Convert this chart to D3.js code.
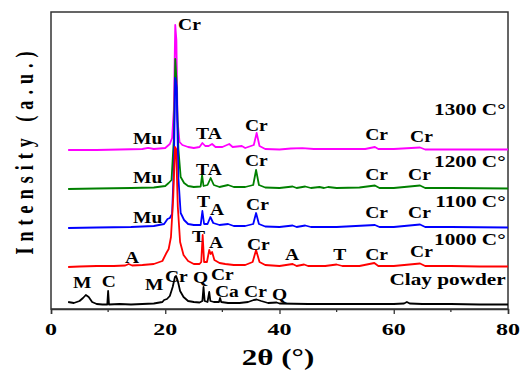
<!DOCTYPE html>
<html>
<head>
<meta charset="utf-8">
<script src="https://cdn.jsdelivr.net/npm/d3@7"></script>
<style>
  body { margin: 0; background: #fff; }
  text { font-family: "Liberation Serif", "Times New Roman", serif; font-weight: bold; fill: #000; }
</style>
</head>
<body>
<svg id="chart" width="525" height="371"></svg>
<script>
// series names, colours and vertical stacking offsets (a.u.)
var seriesNames = ['Clay powder', '1000 C°', '1100 C°', '1200 C°', '1300 C°'];
var seriesColors = ['#000000', '#ff0000', '#0000ff', '#008000', '#ff00ff'];
var seriesOffsets = [4, 42, 81, 120, 159];

// pattern points: [2theta, intensity above own baseline]
var clay = [[3,3],[4,2],[5,4],[5.6,7],[6.1,10],[6.6,8],[7.2,3],[8,1],[9,0.5],[9.85,0.5],[10,14],[10.15,0.5],[12,1],[14,0.5],[16,1],[18,1.5],[19.5,3],[19.8,5],[20.3,6],[20.8,9],[21.3,18],[21.7,28],[21.9,29],[22.2,24],[22.6,14],[23.2,8],[24,4],[25,3],[26,2.5],[26.5,4],[26.7,18],[26.9,4],[27.4,3],[27.7,13],[27.9,4],[28.5,3],[29.4,3],[29.6,7],[29.8,3],[31,2],[33,2],[34.5,3],[35.5,5],[36,5.5],[36.8,4],[38,2],[39.5,2.5],[40,1.5],[45,1],[50,1],[55,1],[60,1],[61.8,1.5],[62.3,3],[62.8,1.5],[65,1],[70,1],[75,0.5],[80,0.5]];
var t1000 = [[3,0],[5,0.5],[8,1],[11,1],[13,1.5],[13.6,3],[14.2,1.5],[16,2],[18,3],[19.5,6],[20.2,14],[20.6,18],[21,30],[21.4,70],[21.7,120],[21.9,118],[22.2,60],[22.6,25],[23.2,12],[24,6],[25,3],[26,3],[26.3,5],[26.55,32],[26.8,5],[27.3,5],[27.7,17],[27.95,13],[28.2,15],[28.6,7],[29.5,4],[30.5,3],[32,2],[34,2],[35.3,5],[35.9,17],[36.5,5],[37.5,2],[40,1],[42.3,3],[43,1],[44.3,2.5],[45,1],[48,1],[50,2.5],[51,1],[54,1],[56.6,4],[57.3,1],[60,1],[64.6,3.5],[65.5,1],[70,1],[75,0.5],[80,0.5]];
var t1100 = [[3,0],[8,0.5],[14,1],[18,2],[19.8,4],[20.4,9],[20.8,10],[21.2,14],[21.5,60],[21.75,150],[22,140],[22.3,50],[22.7,15],[23.3,8],[24,4],[25,3],[26.2,3],[26.5,17],[26.8,4],[27.4,4],[27.9,11],[28.4,5],[29.5,3],[31,4],[32,2],[34,2],[35.4,4],[35.9,15],[36.4,4],[37.5,1.5],[40,1],[42.3,2.5],[43,1],[44.5,2.5],[45.5,1],[50,1],[56.7,3],[57.5,1],[60,1],[64.6,3.5],[65.5,1],[70,1],[80,0.5]];
var t1200 = [[3,0],[8,0.5],[14,1],[18,1.5],[20,3],[20.6,6],[21.1,9],[21.5,50],[21.75,130],[21.95,110],[22.3,40],[22.7,12],[23.3,6],[24,3],[25,2],[26.2,2.5],[26.45,14],[26.7,3],[27.4,4],[27.95,11],[28.5,4],[29.5,2],[31,4],[32,2],[34,2],[35.4,4],[35.9,19],[36.4,4],[37.5,1.5],[40,1],[42.3,2.5],[43,1],[44.5,2.5],[45.5,1],[47,2],[47.8,1],[48.5,2],[50,1],[54,1.5],[56.7,3.5],[57.5,1],[60,1],[64.6,3.5],[65.5,1],[70,1],[80,0.5]];
var t1300 = [[3,0],[8,0],[12,0.5],[16,1],[17,2.2],[18,1],[20,2],[20.8,6],[21.2,12],[21.5,40],[21.75,125],[21.95,110],[22.15,30],[22.5,8],[23,5],[24,3],[25,2],[26,3],[26.5,7],[27,4],[27.6,4],[28.2,6],[28.8,3],[30,3],[31.2,6],[31.8,3],[33.4,4],[34,2],[35.5,5],[36,17],[36.5,4],[37.5,1],[40,0.5],[42,1.5],[44,1.8],[46,1],[50,1],[55,1],[56.7,3],[57.3,1],[60,1],[64.6,2.5],[65.5,0.5],[70,0.5],[80,0.5]];
var seriesData = [clay, t1000, t1100, t1200, t1300];

// phase labels: [text, 2theta, intensity (absolute a.u.)]
var phaseLabels = [
  ['M',3.85,21],['C',8.9,22],['M',16.45,19],['Cr',19.95,27],['Q',24.85,26],['Cr',28.0,29],['Ca',28.7,12],['Cr',33.8,12],['Q',38.7,9],
  ['A',12.95,46],['T',24.7,67],['A',27.65,61],['Cr',34.3,59],['A',40.95,49],['T',49.4,49],['Cr',55.0,49],['Cr',62.85,52],
  ['Mu',14.35,86],['T',25.55,102],['A',27.85,94],['Cr',34.15,99],['Cr',55.0,91],['Cr',62.5,91],
  ['Mu',14.35,126],['TA',25.4,134],['Cr',33.95,143],['Cr',55.0,129],['Cr',62.5,129],
  ['Mu',14.35,165],['TA',25.4,170],['Cr',33.95,178],['Cr',22.25,279],['Cr',55.0,169],['Cr',62.85,167]
];
// series name label heights (absolute a.u.)
var nameLabelY = [24, 64, 102, 142, 194];

var xTicks = [0, 20, 40, 60, 80];
var xMinorTicks = [10, 30, 50, 70];

var svg = d3.select('#chart');
var margin = { left: 51, right: 17, top: 12, bottom: 62 };
var W = 525, H = 371;

var x = d3.scaleLinear().domain([0, 80]).range([margin.left, W - margin.right]);
var y = d3.scaleLinear().domain([0, 297]).range([H - margin.bottom, margin.top]);

// text in the source is a bit wider than the font, stretch it sideways
function wideText(sel, px, py, sx) {
  return sel.attr('x', 0).attr('y', 0)
    .attr('transform', function (d, i) {
      var a = typeof px === 'function' ? px(d, i) : px;
      var b = typeof py === 'function' ? py(d, i) : py;
      return 'translate(' + a + ',' + b + ') scale(' + sx + ',1)';
    });
}

// plot box
svg.append('rect')
  .attr('x', x(0)).attr('y', y(297))
  .attr('width', x(80) - x(0)).attr('height', y(0) - y(297))
  .attr('fill', 'none').attr('stroke', '#333').attr('stroke-width', 1.5);

// patterns, upper ones first so the lower traces sit on top
var line = d3.line().x(function (d) { return x(d[0]); });
d3.range(seriesData.length - 1, -1, -1).forEach(function (i) {
  line.y(function (d) { return y(d[1] + seriesOffsets[i]); });
  svg.append('path')
    .attr('d', line(seriesData[i]))
    .attr('fill', 'none')
    .attr('stroke', seriesColors[i])
    .attr('stroke-width', 1.8)
    .attr('stroke-linejoin', 'round');
});

// x axis
var gx = svg.append('g').attr('transform', 'translate(0,' + y(0) + ')');
gx.call(d3.axisBottom(x).tickValues(xTicks).tickSize(5).tickFormat(''));
gx.selectAll('.minor')
  .data(xMinorTicks)
  .enter().append('line')
  .attr('class', 'minor')
  .attr('x1', function (d) { return x(d); }).attr('x2', function (d) { return x(d); })
  .attr('y1', 0).attr('y2', 3).attr('stroke', '#333').attr('stroke-width', 1.3);
gx.select('.domain').attr('stroke', '#333').attr('stroke-width', 1.5);
gx.selectAll('.tick line').attr('stroke', '#333').attr('stroke-width', 1.3);

wideText(svg.append('g').selectAll('text')
  .data(xTicks)
  .enter().append('text')
  .attr('text-anchor', 'middle')
  .style('font-size', '16px')
  .text(function (d) { return d; }), function (d) { return x(d); }, 335, 1.5);

// axis titles
wideText(svg.append('text')
  .attr('text-anchor', 'middle')
  .style('font-size', '23px')
  .text('2θ (°)'), 278, 365, 1.35);

svg.append('text')
  .attr('x', 0).attr('y', 0)
  .attr('transform', 'translate(33,153) scale(1.35,1) rotate(-90)')
  .attr('text-anchor', 'middle')
  .attr('textLength', 203)
  .attr('lengthAdjust', 'spacing')
  .style('font-size', '18px')
  .text('Intensity (a.u.)');

// phase labels
wideText(svg.append('g').selectAll('text')
  .data(phaseLabels)
  .enter().append('text')
  .style('font-size', '17px')
  .text(function (d) { return d[0]; }),
  function (d) { return x(d[1]); }, function (d) { return y(d[2]); }, 1.15);

// series name labels, right aligned
wideText(svg.append('g').selectAll('text')
  .data(seriesNames)
  .enter().append('text')
  .attr('text-anchor', 'end')
  .style('font-size', '17px')
  .text(function (d) { return d; }),
  x(79.6), function (d, i) { return y(nameLabelY[i]); }, 1.25);
</script>
</body>
</html>
